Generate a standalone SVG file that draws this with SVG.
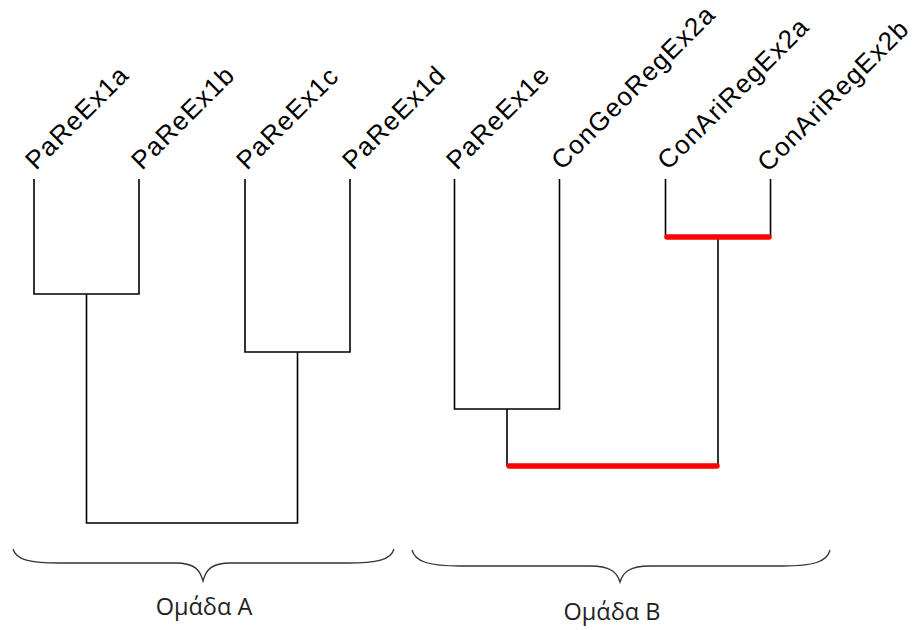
<svg xmlns="http://www.w3.org/2000/svg" width="915" height="630" viewBox="0 0 915 630">
<style>
.lbl{font-family:"Liberation Sans",Arial,sans-serif;font-size:26px;letter-spacing:1.2px;fill:#000}
.grp{font-family:"Open Sans","Noto Sans",sans-serif;font-size:23.5px;fill:#222;text-anchor:middle}
.ln{fill:none;stroke:#000;stroke-width:1.6}
.red{fill:none;stroke:#f00;stroke-width:5.5;stroke-linecap:round}
.brace{fill:none;stroke:#333;stroke-width:1.3}
</style>
<rect width="915" height="630" fill="#fff"/>
<g id="labels">
<g id="n1"><text class="lbl" transform="translate(36,171) rotate(-45)">PaReEx1a</text></g>
<g id="n2"><text class="lbl" transform="translate(142,171) rotate(-45)">PaReEx1b</text></g>
<g id="n3"><text class="lbl" transform="translate(247,171) rotate(-45)">PaReEx1c</text></g>
<g id="n4"><text class="lbl" transform="translate(353,171) rotate(-45)">PaReEx1d</text></g>
<g id="n5"><text class="lbl" transform="translate(457,171) rotate(-45)">PaReEx1e</text></g>
<g id="n6"><text class="lbl" transform="translate(562,171) rotate(-45)">ConGeoRegEx2a</text></g>
<g id="n7"><text class="lbl" transform="translate(668,171) rotate(-45)">ConAriRegEx2a</text></g>
<g id="n8"><text class="lbl" transform="translate(768,173) rotate(-45)">ConAriRegEx2b</text></g>
</g>
<g id="connectors">
<path class="ln" d="M34,179 V294 H139 V179"/>
<path class="ln" d="M245,179 V352 H350 V179"/>
<path class="ln" d="M86.5,294 V523 H297.5 V352"/>
<path class="ln" d="M454.5,179 V409 H559.5 V179"/>
<path class="ln" d="M507,409 V466"/>
<path class="ln" d="M665.5,179 V237 M770.5,179 V237"/>
<path class="ln" d="M718,237 V466"/>
<path class="red" d="M667,237 H769"/>
<path class="red" d="M509,466 H717"/>
</g>
<g id="groupA">
<path class="brace" d="M13,549 C16,560 30,563 60,563 H175 C195,563 200,570 203,581 C206,570 211,563 231,563 H347 C377,563 391,560 394,549"/>
<text class="grp" x="204" y="615">Ομάδα A</text>
</g>
<g id="groupB">
<path class="brace" d="M412,550 C415,562 430,566 460,566 H590 C610,566 617,572 620,582 C623,572 630,566 650,566 H783 C813,566 827,562 830,550"/>
<text class="grp" x="612" y="620">Ομάδα B</text>
</g>
</svg>
